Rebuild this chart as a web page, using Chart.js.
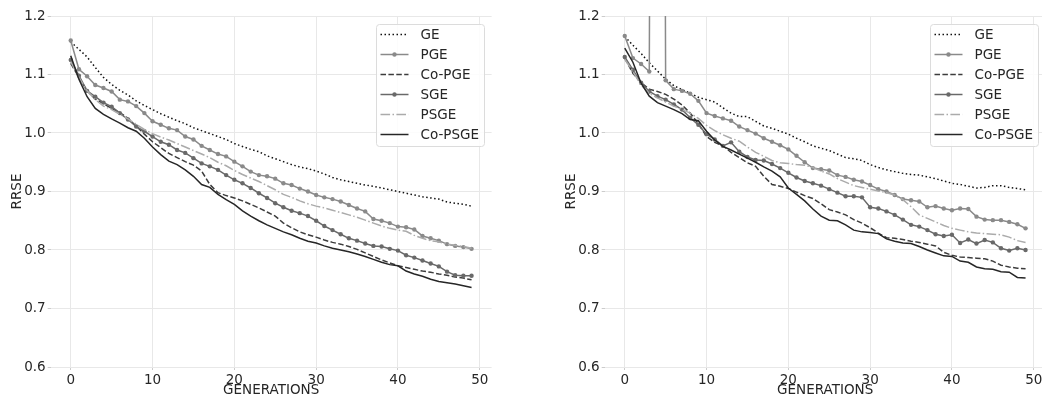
<!DOCTYPE html>
<html>
<head>
<meta charset="utf-8">
<script src="https://cdn.jsdelivr.net/npm/chart.js@4/dist/chart.umd.min.js"></script>
<style>
  html, body { margin: 0; padding: 0; background: #fff; overflow: hidden; }
  body { width: 1042px; height: 398px; position: relative; }
  .panel { position: absolute; top: 0; width: 521px; height: 398px; }
  #left { left: 0; }
  #right { left: 554px; }
</style>
</head>
<body>
<div class="panel" id="left"><canvas id="rrseA" width="521" height="398"></canvas></div>
<div class="panel" id="right"><canvas id="rrseB" width="521" height="398"></canvas></div>
<script>
// generations 0..49
const gens = Array.from({ length: 50 }, (_, i) => i);
const xTicks = [0, 10, 20, 30, 40, 50];
const yTicks = [0.6, 0.7, 0.8, 0.9, 1.0, 1.1, 1.2];
const methods = ['GE', 'PGE', 'Co-PGE', 'SGE', 'PSGE', 'Co-PSGE'];

// left run
const geA = [1.156, 1.143, 1.130, 1.112, 1.095, 1.083, 1.073, 1.065, 1.055, 1.047,
  1.040, 1.033, 1.027, 1.021, 1.016, 1.009, 1.004, 0.999, 0.994, 0.989,
  0.982, 0.977, 0.972, 0.968, 0.961, 0.956, 0.951, 0.946, 0.942, 0.939,
  0.935, 0.930, 0.924, 0.920, 0.917, 0.914, 0.911, 0.909, 0.906, 0.903,
  0.900, 0.897, 0.894, 0.891, 0.889, 0.887, 0.882, 0.880, 0.878, 0.875];
const pgeA = [1.158, 1.109, 1.097, 1.082, 1.077, 1.071, 1.057, 1.054, 1.046, 1.034,
  1.020, 1.014, 1.008, 1.005, 0.994, 0.989, 0.978, 0.971, 0.964, 0.960,
  0.951, 0.943, 0.934, 0.928, 0.926, 0.922, 0.914, 0.911, 0.905, 0.900,
  0.894, 0.890, 0.887, 0.883, 0.877, 0.871, 0.866, 0.853, 0.850, 0.846,
  0.840, 0.839, 0.835, 0.824, 0.820, 0.816, 0.810, 0.807, 0.805, 0.802];
const copgeA = [1.119, 1.095, 1.072, 1.058, 1.050, 1.042, 1.035, 1.025, 1.012, 0.998,
  0.985, 0.975, 0.965, 0.958, 0.951, 0.945, 0.935, 0.912, 0.898, 0.893,
  0.889, 0.884, 0.878, 0.872, 0.865, 0.858, 0.846, 0.838, 0.831, 0.826,
  0.822, 0.817, 0.813, 0.810, 0.806, 0.801, 0.795, 0.789, 0.783, 0.778,
  0.773, 0.770, 0.767, 0.764, 0.762, 0.759, 0.757, 0.754, 0.752, 0.749];
const sgeA = [1.125, 1.098, 1.072, 1.062, 1.052, 1.045, 1.034, 1.023, 1.011, 1.003,
  0.994, 0.985, 0.980, 0.971, 0.966, 0.957, 0.948, 0.943, 0.937, 0.928,
  0.920, 0.914, 0.906, 0.897, 0.889, 0.880, 0.873, 0.867, 0.863, 0.858,
  0.850, 0.841, 0.834, 0.827, 0.820, 0.816, 0.811, 0.807, 0.806, 0.802,
  0.799, 0.791, 0.787, 0.782, 0.777, 0.772, 0.763, 0.757, 0.756, 0.756];
const psgeA = [1.122, 1.095, 1.072, 1.057, 1.046, 1.040, 1.032, 1.024, 1.015, 1.006,
  0.999, 0.993, 0.988, 0.982, 0.976, 0.970, 0.964, 0.958, 0.950, 0.944,
  0.936, 0.929, 0.923, 0.917, 0.910, 0.903, 0.895, 0.890, 0.884, 0.879,
  0.875, 0.872, 0.868, 0.864, 0.860, 0.856, 0.851, 0.846, 0.841, 0.837,
  0.834, 0.832, 0.825, 0.820, 0.816, 0.814, 0.810, 0.808, 0.806, 0.803];
const copsgeA = [1.132, 1.092, 1.062, 1.042, 1.032, 1.024, 1.017, 1.009, 1.003, 0.991,
  0.976, 0.963, 0.952, 0.946, 0.937, 0.926, 0.912, 0.907, 0.895, 0.886,
  0.878, 0.867, 0.858, 0.850, 0.843, 0.837, 0.831, 0.826, 0.820, 0.815,
  0.812, 0.807, 0.803, 0.800, 0.797, 0.793, 0.789, 0.784, 0.779, 0.775,
  0.773, 0.764, 0.759, 0.755, 0.750, 0.746, 0.744, 0.742, 0.739, 0.736];

// right run (PGE blows up at generation 4)
const geB = [1.165, 1.150, 1.136, 1.120, 1.106, 1.092, 1.081, 1.074, 1.068, 1.061,
  1.057, 1.053, 1.043, 1.034, 1.028, 1.028, 1.020, 1.012, 1.008, 1.003,
  0.998, 0.991, 0.985, 0.978, 0.974, 0.970, 0.964, 0.958, 0.956, 0.953,
  0.946, 0.941, 0.937, 0.934, 0.931, 0.929, 0.928, 0.925, 0.922, 0.918,
  0.914, 0.912, 0.909, 0.906, 0.907, 0.910, 0.910, 0.907, 0.905, 0.903];
const pgeB = [1.166, 1.128, 1.118, 1.105, 4.800, 1.090, 1.075, 1.072, 1.067, 1.055,
  1.034, 1.029, 1.025, 1.021, 1.011, 1.005, 0.999, 0.991, 0.985, 0.979,
  0.972, 0.961, 0.950, 0.940, 0.938, 0.936, 0.928, 0.925, 0.920, 0.917,
  0.911, 0.904, 0.900, 0.894, 0.887, 0.885, 0.883, 0.873, 0.875, 0.871,
  0.868, 0.871, 0.870, 0.857, 0.852, 0.851, 0.851, 0.848, 0.844, 0.837];
const copgeB = [1.128, 1.102, 1.086, 1.075, 1.071, 1.066, 1.058, 1.048, 1.034, 1.016,
  0.994, 0.984, 0.978, 0.967, 0.958, 0.949, 0.943, 0.926, 0.912, 0.909,
  0.905, 0.899, 0.893, 0.888, 0.879, 0.869, 0.865, 0.860, 0.852, 0.846,
  0.838, 0.829, 0.821, 0.820, 0.818, 0.815, 0.813, 0.810, 0.807, 0.796,
  0.791, 0.788, 0.787, 0.786, 0.785, 0.781, 0.774, 0.771, 0.769, 0.768];
const sgeB = [1.130, 1.108, 1.086, 1.071, 1.063, 1.057, 1.049, 1.040, 1.026, 1.014,
  0.998, 0.989, 0.978, 0.984, 0.968, 0.959, 0.954, 0.953, 0.947, 0.940,
  0.932, 0.924, 0.918, 0.914, 0.910, 0.904, 0.898, 0.892, 0.892, 0.890,
  0.873, 0.871, 0.866, 0.860, 0.852, 0.843, 0.840, 0.834, 0.827, 0.824,
  0.826, 0.812, 0.818, 0.811, 0.817, 0.813, 0.803, 0.799, 0.803, 0.800];
const psgeB = [1.126, 1.105, 1.082, 1.068, 1.060, 1.053, 1.046, 1.040, 1.034, 1.025,
  1.013, 1.004, 0.997, 0.991, 0.986, 0.976, 0.967, 0.960, 0.953, 0.949,
  0.948, 0.946, 0.945, 0.941, 0.935, 0.930, 0.922, 0.916, 0.910, 0.907,
  0.904, 0.901, 0.898, 0.894, 0.886, 0.874, 0.860, 0.854, 0.848, 0.842,
  0.837, 0.834, 0.831, 0.829, 0.828, 0.827, 0.826, 0.822, 0.816, 0.813];
const copsgeB = [1.145, 1.121, 1.085, 1.063, 1.052, 1.046, 1.040, 1.033, 1.023, 1.021,
  1.003, 0.988, 0.977, 0.971, 0.964, 0.957, 0.950, 0.942, 0.935, 0.925,
  0.906, 0.895, 0.884, 0.870, 0.858, 0.851, 0.850, 0.843, 0.834, 0.831,
  0.830, 0.828, 0.819, 0.815, 0.812, 0.811, 0.806, 0.800, 0.795, 0.790,
  0.789, 0.781, 0.779, 0.771, 0.768, 0.767, 0.763, 0.762, 0.753, 0.752];

const textColor = '#262626';
const gridColor = '#e8e8e8';
const font = { family: '"DejaVu Sans", sans-serif', size: 13.5 };

// matplotlib-like line styles, one per method
const styles = [
  { color: '#111111', dash: [1.5, 2.5], marker: false },
  { color: '#8a8a8a', dash: [], marker: true },
  { color: '#3c3c3c', dash: [5.5, 2.4], marker: false },
  { color: '#696969', dash: [], marker: true },
  { color: '#ababab', dash: [9.6, 2.4, 1.5, 2.4], marker: false },
  { color: '#262626', dash: [], marker: false }
];

function makeDatasets(series) {
  return series.map((vals, i) => ({
    label: methods[i],
    data: gens.map((g, k) => ({ x: g, y: vals[k] })),
    borderColor: styles[i].color,
    backgroundColor: styles[i].color,
    borderDash: styles[i].dash,
    borderWidth: 1.5,
    pointRadius: styles[i].marker ? 2.2 : 0,
    pointBorderWidth: 0,
    pointBackgroundColor: styles[i].color,
    tension: 0,
    order: series.length - i
  }));
}

// legend drawn inside the plot, upper right
const legendBox = {
  id: 'legendBox',
  afterDraw(chart) {
    const { ctx, chartArea } = chart;
    const w = 108, h = 122;
    const x0 = Math.round(chartArea.right - 8 - w) + 0.5;
    const y0 = Math.round(chartArea.top + 8) + 0.5;
    ctx.save();
    ctx.beginPath();
    ctx.roundRect(x0, y0, w, h, 3);
    ctx.fillStyle = 'rgba(255,255,255,0.85)';
    ctx.fill();
    ctx.strokeStyle = '#dcdcdc';
    ctx.lineWidth = 1;
    ctx.stroke();
    ctx.textAlign = 'left';
    ctx.textBaseline = 'middle';
    ctx.font = font.size + 'px ' + font.family;
    chart.data.datasets.forEach((ds, i) => {
      const y = y0 + 10 + 20 * i;
      ctx.beginPath();
      ctx.setLineDash(ds.borderDash);
      ctx.strokeStyle = ds.borderColor;
      ctx.lineWidth = ds.borderWidth;
      ctx.moveTo(x0 + 4, y);
      ctx.lineTo(x0 + 32, y);
      ctx.stroke();
      ctx.setLineDash([]);
      if (ds.pointRadius) {
        ctx.beginPath();
        ctx.arc(x0 + 18, y, ds.pointRadius, 0, Math.PI * 2);
        ctx.fillStyle = ds.borderColor;
        ctx.fill();
      }
      ctx.fillStyle = textColor;
      ctx.fillText(ds.label, x0 + 44, y + 1);
    });
    ctx.restore();
  }
};

function makeChart(id, series) {
  return new Chart(document.getElementById(id), {
    type: 'line',
    data: { datasets: makeDatasets(series) },
    options: {
      responsive: false,
      animation: false,
      devicePixelRatio: 1,
      layout: { padding: { top: 16, right: 29.4, left: 0, bottom: 0 } },
      plugins: { legend: { display: false }, tooltip: { enabled: false } },
      scales: {
        x: {
          type: 'linear',
          min: -2.45,
          max: 51.45,
          afterBuildTicks: s => { s.ticks = xTicks.map(v => ({ value: v })); },
          afterFit: s => { s.height = 31; },
          grid: { color: gridColor, tickLength: 3, tickColor: '#cccccc' },
          border: { display: false },
          ticks: { color: textColor, font: font, padding: 2, maxRotation: 0 },
          title: { display: true, text: 'GENERATIONS', color: textColor, font: font, padding: { top: 0, bottom: -1 } }
        },
        y: {
          min: 0.6,
          max: 1.2,
          afterBuildTicks: s => { s.ticks = yTicks.map(v => ({ value: v })); },
          afterFit: s => { s.width = 50.7; },
          grid: { color: gridColor, tickLength: 3, tickColor: '#cccccc' },
          border: { display: false },
          ticks: { color: textColor, font: font, padding: 2, callback: v => v.toFixed(1) },
          title: { display: true, text: 'RRSE', color: textColor, font: font, padding: { top: 9, bottom: 0 } }
        }
      }
    },
    plugins: [legendBox]
  });
}

makeChart('rrseA', [geA, pgeA, copgeA, sgeA, psgeA, copsgeA]);
makeChart('rrseB', [geB, pgeB, copgeB, sgeB, psgeB, copsgeB]);
</script>
</body>
</html>
